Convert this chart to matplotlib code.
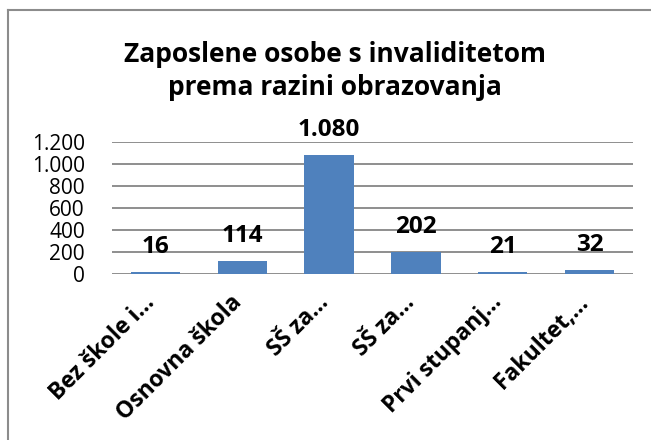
## Zaposlene osobe s invaliditetom - bar chart
import numpy as np
import matplotlib
matplotlib.use("Agg")
import matplotlib.pyplot as plt
from matplotlib.lines import Line2D
from matplotlib.transforms import ScaledTranslation

## -----------------------
## Data
categories = ["Bez škole i…", "Osnovna škola", "SŠ za…", "SŠ za…",
              "Prvi stupanj…", "Fakultet,…"]
values = [16, 114, 1080, 202, 21, 32]
value_labels = ["16", "114", "1.080", "202", "21", "32"]
y_ticks = [0, 200, 400, 600, 800, 1000, 1200]
y_tick_labels = ["0", "200", "400", "600", "800", "1.000", "1.200"]
title_lines = ["Zaposlene osobe s invaliditetom", "prema razini obrazovanja"]

## -----------------------
## Style
plt.rcParams['font.family'] = ['Open Sans', 'DejaVu Sans']
bar_color = "#4F81BD"
grid_color = "#868686"

fig = plt.figure(figsize=(6.51, 4.40), dpi=100)
ax = fig.add_axes([112 / 651, 1 - 274 / 440, 521 / 651, 132 / 440])

x = np.arange(len(categories))
ax.bar(x, values, width=0.57, color=bar_color, zorder=3)

## Data labels above bars
for xi, v, lab in zip(x, values, value_labels):
    ax.annotate(lab, (xi, v), xytext=(0, 19), textcoords='offset pixels',
                ha='center', va='baseline', fontsize=17.5, fontweight='bold')

ax.set_xlim(-0.5, len(categories) - 0.5)
ax.set_ylim(0, 1200)
ax.set_yticks(y_ticks)
ax.set_yticklabels(y_tick_labels, fontsize=15)
ax.set_xticks(x)
ax.set_xticklabels(categories, fontsize=16.5, fontweight='bold', rotation=45,
                   ha='right', va='baseline', rotation_mode='anchor')
# shift rotated labels a bit to the right like in excel
shift = ScaledTranslation(0.16, 0, fig.dpi_scale_trans)
for lab in ax.get_xticklabels():
    lab.set_transform(lab.get_transform() + shift)

ax.grid(axis='y', color=grid_color, linewidth=1.3, zorder=0)
ax.tick_params(axis='y', length=0, pad=19.5)
ax.tick_params(axis='x', length=0, pad=21)
for s in ax.spines.values():
    s.set_visible(False)

## Title, two lines
fig.text(0.515, 1 - 62 / 440, title_lines[0], ha='center', va='baseline',
         fontsize=19, fontweight='bold')
fig.text(0.515, 1 - 95 / 440, title_lines[1], ha='center', va='baseline',
         fontsize=19, fontweight='bold')

## Chart border (top and left only visible)
fig.add_artist(Line2D([8 / 651, 8 / 651], [0, 1 - 10 / 440],
                      transform=fig.transFigure, color="#8C8C8C", lw=1.5))
fig.add_artist(Line2D([8 / 651, 1], [1 - 10 / 440, 1 - 10 / 440],
                      transform=fig.transFigure, color="#8C8C8C", lw=1.5))

fig.savefig("out.png", dpi=100)
